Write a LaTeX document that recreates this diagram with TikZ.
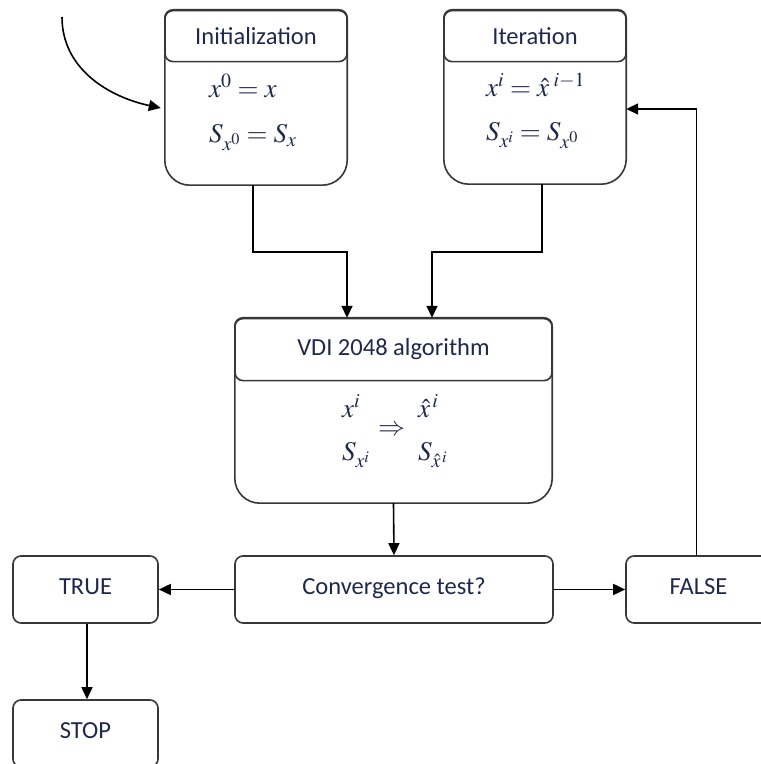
\documentclass[tikz,border=0pt]{standalone}
\usepackage{mathptmx}
\usepackage[no-math]{fontspec}
\setmainfont{Carlito}
\usetikzlibrary{arrows.meta,calc}
\definecolor{ink}{RGB}{30,40,75}
\definecolor{edge}{RGB}{55,55,55}
\tikzset{
  boxline/.style={draw=edge, line width=1.6pt},
  labelfont/.style={text=ink, font=\fontsize{24.5}{29}\selectfont},
  flowbox/.style={boxline, labelfont, rounded corners=8pt, minimum height=67pt, inner sep=0pt},
  headbox/.style={boxline, labelfont, rounded corners=8pt, anchor=north, inner sep=0pt},
  tallbox/.style={draw=none, inner sep=0pt},
  eqn/.style={text=ink, font=\fontsize{27}{32}\selectfont, anchor=base west, inner sep=0pt},
  flow/.style={draw=black, line width=1.6pt, -{Triangle[length=12pt,width=11pt]}},
}
% outline of a tall box: small top corners, large bottom corners
\newcommand\talloutline[1]{%
  \draw[boxline] ($(#1.north west)+(0,-8)$) arc[start angle=180,end angle=90,radius=8pt]
    -- ($(#1.north east)+(-8,0)$) arc[start angle=90,end angle=0,radius=8pt]
    -- ($(#1.south east)+(0,25)$) arc[start angle=0,end angle=-90,radius=25pt]
    -- ($(#1.south west)+(25,0)$) arc[start angle=-90,end angle=-180,radius=25pt]
    -- cycle;}
\begin{document}
\begin{tikzpicture}[x=1pt,y=1pt]
\useasboundingbox (0,0) rectangle (761,764);

% initialization block
\node[tallbox, minimum width=182pt, minimum height=175pt] (init) at (256,666.5) {};
\talloutline{init}
\node[headbox, minimum width=182pt, minimum height=51pt] (inith) at (init.north) {Initialization};
\node[eqn] (initA) at ($(init.north west)+(44,-88)$) {$x^{0}=x$};
\node[eqn] (initB) at ($(init.north west)+(44,-133)$) {$S_{x^{0}}=S_{x}$};

% iteration block
\node[tallbox, minimum width=182pt, minimum height=174pt] (iter) at (535,667) {};
\talloutline{iter}
\node[headbox, minimum width=182pt, minimum height=51pt] (iterh) at (iter.north) {Iteration};
\node[eqn] (iterA) at ($(iter.north west)+(42,-87)$) {$x^{i}=\hat{x}^{\,\,i-1}$};
\node[eqn] (iterB) at ($(iter.north west)+(42,-131)$) {$S_{x^{i}}=S_{x^{0}}$};

% VDI 2048 block
\node[tallbox, minimum width=317pt, minimum height=185pt] (vdi) at (393.5,353.5) {};
\talloutline{vdi}
\node[headbox, minimum width=317pt, minimum height=62pt] (vdih) at (vdi.north) {VDI 2048 algorithm};
\node[eqn] (vdiA) at ($(vdi.north west)+(107,-100)$) {$x^{i}$};
\node[eqn] (vdiB) at ($(vdi.north west)+(107,-143)$) {$S_{x^{i}}$};
\node[eqn] (vdiC) at ($(vdi.north west)+(183,-100)$) {$\hat{x}^{\,i}$};
\node[eqn] (vdiD) at ($(vdi.north west)+(183,-143)$) {$S_{\hat{x}^{\,i}}$};
\node[eqn, anchor=center, text height=8pt, text depth=0pt] (vdiArrow) at ($(vdi.north)+(-2,-114)$) {$\Rightarrow$};

% decision row
\node[flowbox, minimum width=318pt] (conv) at (394,174.5) {\raisebox{6pt}{Convergence test?}};
\node[flowbox, minimum width=145pt] (true) at (85.5,174.5) {\raisebox{6pt}{TRUE}};
\node[flowbox, minimum width=145pt] (false) at (698.5,174.5) {\raisebox{6pt}{FALSE}};
\node[flowbox, minimum width=145pt] (stop) at (85.5,30.5) {\raisebox{6pt}{STOP}};

% connectors
\coordinate (start) at (62,747);
\draw[flow] (start) to[out=-90,in=168] ($(init.west)+(-4,-10.5)$);
\draw[flow] ([xshift=-3pt]init.south) -- ++(0,-67) -| ([xshift=-46.5pt]vdi.north);
\draw[flow] ([xshift=7pt]iter.south) -- ++(0,-68) -| ([xshift=38.5pt]vdi.north);
\draw[flow] (vdi.south) -- (conv.north);
\draw[flow] (conv.west) -- (true.east);
\draw[flow] (conv.east) -- (false.west);
\draw[flow] ([xshift=1.5pt]true.south) -- ([xshift=1.5pt]stop.north);
\draw[flow] ([xshift=-2pt]false.north) |- ([yshift=-12pt]iter.east);
\end{tikzpicture}
\end{document}
